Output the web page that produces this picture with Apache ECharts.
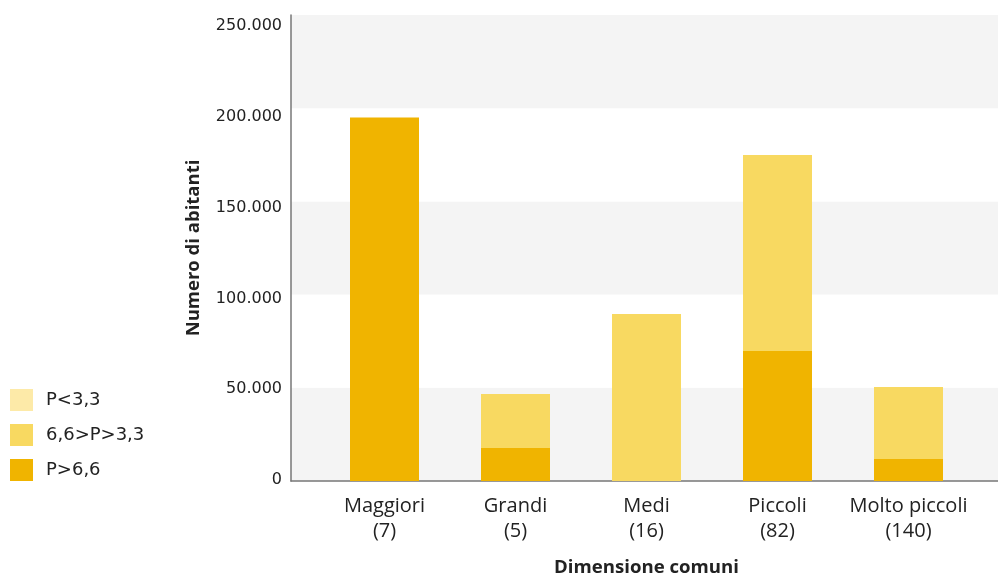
<!DOCTYPE html>
<html><head><meta charset="utf-8">
<script src="https://cdn.jsdelivr.net/npm/echarts@6/dist/echarts.min.js"></script>
<style>html,body{margin:0;padding:0;background:#fff}#c{width:998px;height:576px}</style>
</head><body><div id="c"></div>
<script>
const categories = ['Maggiori\n(7)', 'Grandi\n(5)', 'Medi\n(16)', 'Piccoli\n(82)', 'Molto piccoli\n(140)'];
const seriesNames = ['P<3,3', '6,6>P>3,3', 'P>6,6'];
const highValues = [195000, 17700, 0, 69700, 11800];      // P>6,6
const midValues = [0, 29000, 89600, 105200, 38600];        // 6,6>P>3,3
const lowValues = [0, 0, 0, 0, 0];                         // P<3,3
const yTicks = { min: 0, max: 250000, interval: 50000 };
const font = 'DejaVu Sans';
const font2 = 'Open Sans';
const fmt = v => v === 0 ? '0' : String(v).replace(/\B(?=(\d{3})+(?!\d))/g, '.');
// labels sit slightly lower than their gridlines near the top in the reference
const labelRich = {};
const labelFmt = v => {
  const k = 't' + (v / yTicks.interval);
  const off = Math.round(-1 + v / yTicks.max * 12);
  labelRich[k] = { fontSize: 16, color: '#222', fontFamily: font,
    padding: off >= 0 ? [2 * off, 0, 0, 0] : [0, 0, -2 * off, 0] };
  return '{' + k + '|' + fmt(v) + '}';
};
for (let v = yTicks.min; v <= yTicks.max; v += yTicks.interval) labelFmt(v);

const chart = echarts.init(document.getElementById('c'));
chart.setOption({
  animation: false,
  textStyle: { fontFamily: font },
  legend: {
    orient: 'vertical', left: 5, top: 384, icon: 'rect',
    itemWidth: 23, itemHeight: 22, itemGap: 13,
    data: seriesNames,
    textStyle: { fontSize: 18, color: '#222', fontFamily: font, padding: [0, 0, 0, 8] }
  },
  grid: [
    { left: 291, right: 0, top: 15, bottom: 95, outerBoundsMode: 'none', containLabel: false },
    { left: 319, right: 24, top: 15, bottom: 95, outerBoundsMode: 'none', containLabel: false }
  ],
  xAxis: [
    { gridIndex: 0, type: 'value', min: 0, max: 1, axisLabel: { show: false }, axisTick: { show: false },
      splitLine: { show: false }, axisLine: { show: true, lineStyle: { color: '#777', width: 1.5 } } },
    { gridIndex: 1, type: 'category', data: categories,
      axisLine: { show: false }, axisTick: { show: false },
      axisLabel: { interval: 0, fontSize: 20, color: '#222', lineHeight: 25, margin: 13, fontFamily: font2 },
      name: 'Dimensione comuni', nameLocation: 'middle', nameGap: 77,
      nameTextStyle: { fontSize: 18.6, fontWeight: 'bold', color: '#222', fontFamily: font2 } }
  ],
  yAxis: [
    { gridIndex: 0, type: 'value', min: yTicks.min, max: yTicks.max, interval: yTicks.interval,
      axisLine: { show: true, lineStyle: { color: '#777', width: 1.5 } }, axisTick: { show: false },
      splitLine: { show: false },
      splitArea: { show: true, areaStyle: { color: ['#f4f4f4', '#ffffff'] } },
      axisLabel: { formatter: labelFmt, rich: labelRich, margin: 9 },
      name: 'Numero di abitanti', nameLocation: 'middle', nameGap: 88,
      nameTextStyle: { fontSize: 18.5, fontWeight: 'bold', color: '#222', fontFamily: font2 } },
    { gridIndex: 1, type: 'value', min: yTicks.min, max: yTicks.max, interval: yTicks.interval, show: false,
      splitLine: { show: false } }
  ],
  series: [
    { name: 'P>6,6', type: 'bar', stack: 's', xAxisIndex: 1, yAxisIndex: 1, data: highValues,
      barWidth: 69, itemStyle: { color: '#f0b400' } },
    { name: '6,6>P>3,3', type: 'bar', stack: 's', xAxisIndex: 1, yAxisIndex: 1, data: midValues,
      barWidth: 69, itemStyle: { color: '#f8d961' } },
    { name: 'P<3,3', type: 'bar', stack: 's', xAxisIndex: 1, yAxisIndex: 1, data: lowValues,
      barWidth: 69, itemStyle: { color: '#fdeaa8' } }
  ]
});
</script></body></html>
